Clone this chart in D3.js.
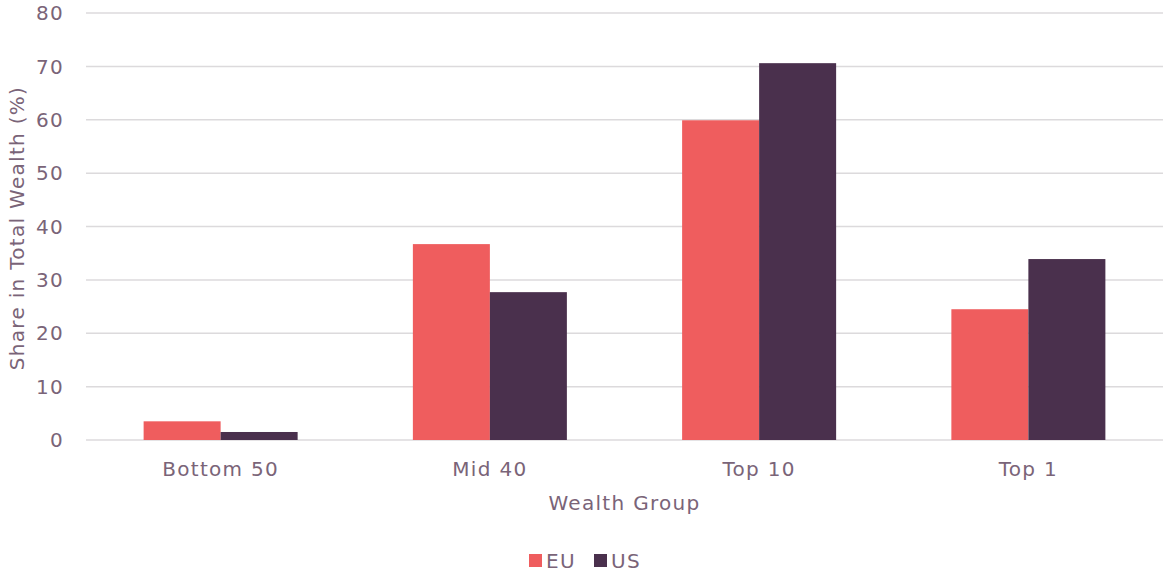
<!DOCTYPE html>
<html><head><meta charset="utf-8">
<script src="https://cdn.jsdelivr.net/npm/d3@7"></script>
<style>body{margin:0;background:#fff}text{font-family:"DejaVu Sans",sans-serif;fill:#7a6478;letter-spacing:1.3px}</style>
</head><body>
<svg id="c" width="1166" height="577"></svg>
<script>
const categories = ["Bottom 50","Mid 40","Top 10","Top 1"];
const seriesNames = ["EU","US"];
const euValues = [3.5, 36.7, 59.9, 24.5];
const usValues = [1.5, 27.7, 70.6, 33.9];
const yTicks = [0,10,20,30,40,50,60,70,80];
const colors = {EU:"#ef5d5e", US:"#4a304d"};

(function(){
const svg = d3.select("#c");
const mLeft = 86, mRight = 1163, mTop = 13, mBottom = 440;
const x0 = d3.scaleBand().domain(categories).range([mLeft,mRight]).paddingInner(0.428).paddingOuter(0.214);
const x1 = d3.scaleBand().domain(seriesNames).range([0,x0.bandwidth()]);
const y = d3.scaleLinear().domain([0,80]).range([mBottom,mTop]);

svg.append("g").selectAll("line").data(yTicks).join("line")
  .attr("x1",mLeft).attr("x2",mRight).attr("y1",d=>y(d)).attr("y2",d=>y(d))
  .attr("stroke","#dcdadc").attr("stroke-width",1.5);

svg.append("g").selectAll("text").data(yTicks).join("text")
  .attr("x",64).attr("y",d=>y(d)).attr("dy","0.36em").attr("text-anchor","end")
  .attr("font-size",20).text(d=>d);

const data = categories.map((c,i)=>({cat:c, vals:[{k:"EU",v:euValues[i]},{k:"US",v:usValues[i]}]}));
const g = svg.append("g").selectAll("g").data(data).join("g")
  .attr("transform",d=>`translate(${x0(d.cat)},0)`);
g.selectAll("rect").data(d=>d.vals).join("rect")
  .attr("x",d=>x1(d.k)).attr("width",x1.bandwidth())
  .attr("y",d=>y(d.v)).attr("height",d=>y(0)-y(d.v))
  .attr("fill",d=>colors[d.k]);

svg.append("g").selectAll("text").data(categories).join("text")
  .attr("x",d=>x0(d)+x0.bandwidth()/2).attr("y",476).attr("text-anchor","middle")
  .attr("font-size",20).text(d=>d);

svg.append("text").attr("x",(mLeft+mRight)/2).attr("y",510).attr("text-anchor","middle")
  .attr("font-size",20).text("Wealth Group");
svg.append("text").attr("transform","translate(24,228) rotate(-90)").attr("text-anchor","middle")
  .attr("font-size",20).text("Share in Total Wealth (%)");

const legX = [529, 594];
const lg = svg.append("g").selectAll("g").data(seriesNames).join("g")
  .attr("transform",(d,i)=>`translate(${legX[i]},554)`);
lg.append("rect").attr("width",13).attr("height",13).attr("fill",d=>colors[d]);
lg.append("text").attr("x",17).attr("y",7).attr("dy","0.36em").attr("font-size",20).text(d=>d);
})();
</script>
</body></html>
